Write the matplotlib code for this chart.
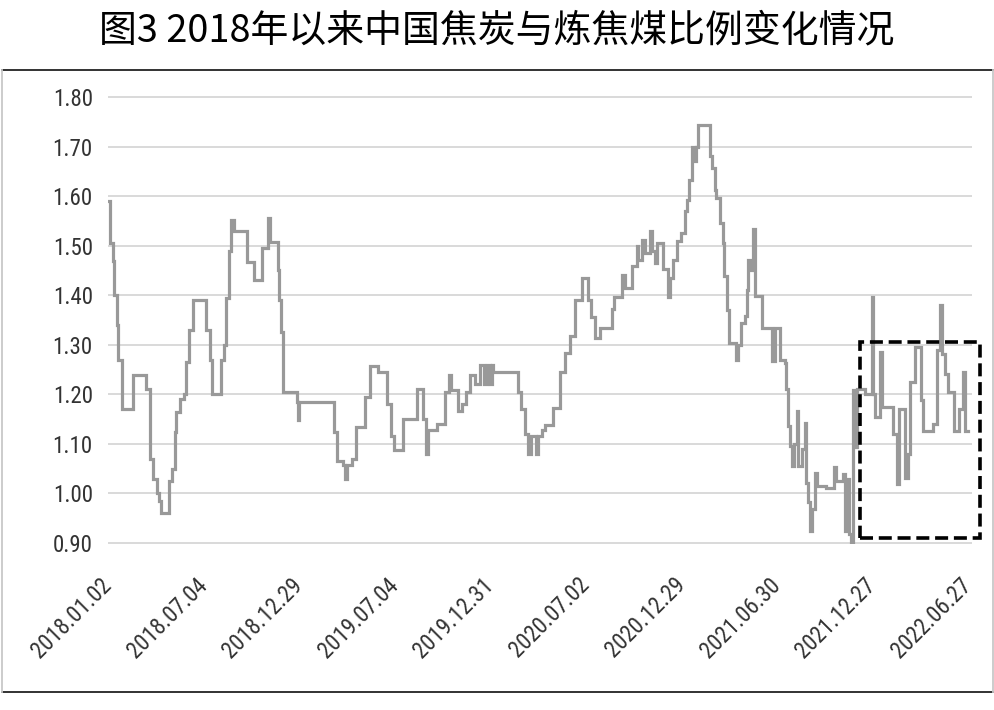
import matplotlib
matplotlib.use("Agg")
import matplotlib.pyplot as plt
from matplotlib.patches import Rectangle
from matplotlib.lines import Line2D
from matplotlib import font_manager as fm

# ---- data (trading-day index, coke / coking-coal price ratio) ----
day_idx = [0, 2, 6, 7, 11, 13, 17, 18, 32, 48, 53, 57, 61, 64, 67, 76, 80, 84, 86, 90,
           95, 98, 102, 107, 123, 128, 130, 142, 146, 148, 152, 155, 158, 174, 183, 193,
           201, 203, 213, 215, 217, 220, 237, 238, 240, 284, 288, 295, 298, 300, 306,
           312, 323, 329, 339, 350, 356, 359, 371, 388, 395, 399, 402, 413, 423, 428,
           431, 440, 444, 450, 455, 461, 467, 472, 476, 480, 482, 484, 515, 519, 524,
           528, 531, 537, 540, 545, 549, 559, 568, 574, 580, 586, 595, 603, 607, 611,
           618, 633, 635, 645, 649, 658, 664, 666, 670, 674, 681, 683, 687, 689, 697,
           703, 706, 710, 714, 720, 724, 727, 729, 733, 737, 739, 741, 756, 759, 762,
           764, 769, 772, 774, 777, 780, 789, 791, 795, 800, 802, 804, 807, 810, 812,
           821, 834, 837, 844, 850, 851, 854, 856, 859, 862, 865, 867, 871, 875, 877,
           879, 882, 884, 888, 890, 902, 912, 914, 923, 925, 927, 930, 933, 935, 937,
           940, 951, 959, 961, 963, 970, 972, 986, 991, 993, 1001, 1005, 1007, 1013,
           1021, 1024, 1036, 1041, 1045, 1047, 1051, 1055, 1062, 1069, 1074, 1076, 1080]
ratio = [1.59, 1.505, 1.47, 1.40, 1.34, 1.27, 1.24, 1.17, 1.24, 1.21, 1.07, 1.03, 1.00,
         0.985, 0.96, 1.025, 1.05, 1.125, 1.165, 1.19, 1.20, 1.265, 1.33, 1.39, 1.33,
         1.27, 1.20, 1.27, 1.30, 1.395, 1.49, 1.552, 1.53, 1.468, 1.43, 1.495, 1.555,
         1.508, 1.45, 1.39, 1.325, 1.205, 1.185, 1.148, 1.185, 1.125, 1.065, 1.058,
         1.03, 1.058, 1.07, 1.135, 1.195, 1.258, 1.245, 1.18, 1.115, 1.088, 1.15, 1.21,
         1.15, 1.08, 1.128, 1.14, 1.204, 1.24, 1.208, 1.166, 1.18, 1.204, 1.24, 1.22,
         1.26, 1.22, 1.26, 1.22, 1.26, 1.245, 1.204, 1.17, 1.12, 1.08, 1.115, 1.08,
         1.115, 1.128, 1.138, 1.172, 1.245, 1.283, 1.317, 1.39, 1.435, 1.39, 1.357,
         1.313, 1.333, 1.373, 1.397, 1.44, 1.414, 1.458, 1.50, 1.472, 1.512, 1.485,
         1.53, 1.49, 1.465, 1.505, 1.452, 1.397, 1.435, 1.472, 1.51, 1.525, 1.57, 1.593,
         1.633, 1.70, 1.67, 1.70, 1.744, 1.68, 1.656, 1.613, 1.596, 1.546, 1.505, 1.438,
         1.371, 1.304, 1.27, 1.30, 1.344, 1.358, 1.41, 1.472, 1.45, 1.534, 1.398, 1.334,
         1.267, 1.334, 1.27, 1.264, 1.21, 1.136, 1.096, 1.055, 1.10, 1.166, 1.055,
         1.089, 1.143, 1.022, 0.982, 0.925, 0.968, 1.042, 1.015, 1.012, 1.053, 1.026,
         1.04, 0.925, 1.03, 0.918, 0.90, 1.208, 1.093, 1.21, 1.20, 1.396, 1.20, 1.155,
         1.286, 1.174, 1.12, 1.019, 1.17, 1.032, 1.08, 1.225, 1.296, 1.188, 1.127,
         1.14, 1.29, 1.38, 1.282, 1.242, 1.205, 1.127, 1.17, 1.245, 1.127, 1.127]

tick_idx = [0, 120, 240, 360, 480, 600, 720, 840, 960, 1080]
tick_labels = ["2018.01.02", "2018.07.04", "2018.12.29", "2019.07.04", "2019.12.31",
               "2020.07.02", "2020.12.29", "2021.06.30", "2021.12.27", "2022.06.27"]
y_ticks = [0.90, 1.00, 1.10, 1.20, 1.30, 1.40, 1.50, 1.60, 1.70, 1.80]
title = "图3 2018年以来中国焦炭与炼焦煤比例变化情况"
box_x = [944, 1095]
box_y = [0.911, 1.305]

# ---- pick a narrow font for the axis labels if one is installed ----
avail = {f.name for f in fm.fontManager.ttflist}
narrow = [n for n in ["Liberation Sans Narrow", "Roboto Condensed", "Open Sans Condensed",
                      "DejaVu Sans Condensed"] if n in avail]
if narrow:
    lab_font = fm.FontProperties(family=[narrow[0], "DejaVu Sans"], size=16.5)
else:
    lab_font = fm.FontProperties(family=["Liberation Sans", "DejaVu Sans"], size=15.5)

# ---- figure ----
W, H = 994, 710
fig = plt.figure(figsize=(W / 100, H / 100), dpi=100)
fig.patch.set_facecolor("white")

left, right = 108 / W, 972 / W
bottom, top = 1 - 544 / H, 1 - 96 / H
ax = fig.add_axes([left, bottom, right - left, top - bottom])
ax.set_xlim(0, 1085)
ax.set_ylim(0.898, 1.802)

for s in ax.spines.values():
    s.set_visible(False)

ax.set_yticks(y_ticks)
ax.set_yticklabels([f"{v:.2f}" for v in y_ticks], fontproperties=lab_font,
                   color="#333333")
ax.set_xticks(tick_idx)
ax.set_xticklabels(tick_labels, rotation=45, ha="right", va="center",
                   rotation_mode="anchor", fontproperties=lab_font,
                   color="#333333")
ax.tick_params(axis="y", length=0, pad=11)
ax.tick_params(axis="x", length=0, pad=27)
ax.yaxis.grid(True, color="#d9d9d9", linewidth=1.4)
ax.set_axisbelow(True)

ax.plot(day_idx, ratio, drawstyle="steps-post", color="#999999", linewidth=2.3,
        solid_joinstyle="miter", zorder=3)

rect = Rectangle((box_x[0], box_y[0]), box_x[1] - box_x[0], box_y[1] - box_y[0],
                 fill=False, edgecolor="black", linewidth=2.6, linestyle=(0, (3.6, 1.6)),
                 clip_on=False, zorder=4)
ax.add_patch(rect)

# outer frame
fig.add_artist(Line2D([2 / W, 993 / W], [1 - 70 / H, 1 - 70 / H], color="#222222",
                      linewidth=1.3, transform=fig.transFigure))
fig.add_artist(Line2D([2 / W, 993 / W], [1 - 692 / H, 1 - 692 / H], color="#222222",
                      linewidth=1.3, transform=fig.transFigure))
fig.add_artist(Line2D([2 / W, 2 / W], [1 - 70 / H, 1 - 692 / H], color="#c8c8c8",
                      linewidth=1.3, transform=fig.transFigure))
fig.add_artist(Line2D([993 / W, 993 / W], [1 - 70 / H, 1 - 692 / H], color="#c8c8c8",
                      linewidth=1.3, transform=fig.transFigure))

fig.text(0.5, 1 - 31 / H, title, ha="center", va="center", fontsize=27.3,
         family=["Noto Sans CJK SC", "DejaVu Sans"], weight="medium", color="black")

fig.savefig("out.png", dpi=100, facecolor="white")
